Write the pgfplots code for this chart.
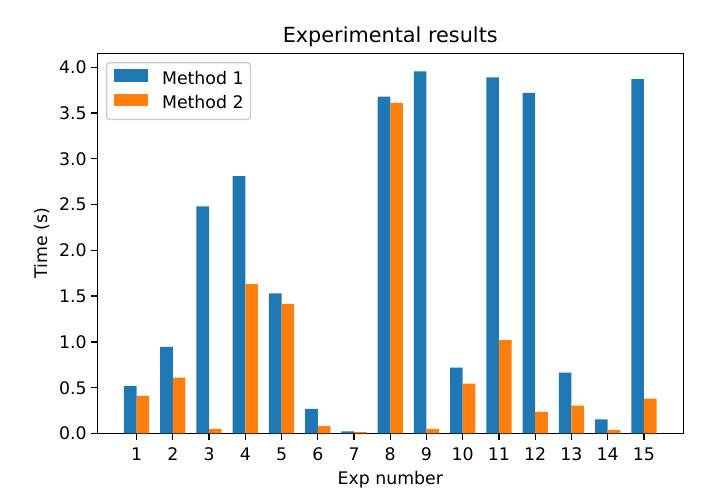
\documentclass[border=0pt]{standalone}
\usepackage{fontspec}
\setmainfont{DejaVu Sans}
\usepackage{pgfplots}
\pgfplotsset{compat=1.18}
\definecolor{cA}{RGB}{31,119,180}
\definecolor{cB}{RGB}{255,127,14}
\begin{document}
\begin{tikzpicture}
\useasboundingbox (0,0) rectangle (417.7pt,287.9pt);
\begin{axis}[
  at={(56.1pt,37.8pt)}, anchor=south west,
  scale only axis, width=338.1pt, height=219.4pt,
  xmin=-0.085, xmax=16.085, ymin=0, ymax=4.153,
  axis line style={line width=0.8pt},
  every tick/.style={black, line width=0.8pt},
  tick align=outside, major tick length=3.5pt,
  xtick={1,...,15}, ytick={0,0.5,...,4.0},
  xtick pos=bottom, ytick pos=left,
  /pgf/number format/assume math mode=true,
  yticklabel style={/pgf/number format/fixed, /pgf/number format/fixed zerofill, /pgf/number format/precision=1},
  tick label style={font=\fontsize{10}{12}\selectfont},
  xticklabel style={anchor=base, inner sep=0pt, yshift=-11.8pt},
  yticklabel style={anchor=east, inner sep=0pt, xshift=-2.4pt},
  title={Experimental results},
  every axis title/.style={at={(axis description cs:0.5,1)}, anchor=base, yshift=6.3pt, inner sep=0pt, font=\fontsize{12}{14}\selectfont},
  xlabel={Exp number},
  every axis x label/.style={at={(axis description cs:0.5,0)}, anchor=base, yshift=-29.3pt, inner sep=0pt, font=\fontsize{10}{12}\selectfont},
  ylabel={Time (s)},
  every axis y label/.style={at={(axis description cs:0,0.5)}, xshift=-28.7pt, rotate=90, anchor=base, inner sep=0pt, font=\fontsize{10}{12}\selectfont},
  legend style={at={(axis description cs:0,1)}, anchor=north west, xshift=5pt, yshift=-5pt,
    draw=black!20, line width=0.8pt, rounded corners=2pt, fill=white, fill opacity=0.8, text opacity=1,
    inner xsep=4pt, inner ysep=4pt, row sep=3.2pt,
    font=\fontsize{10}{12}\selectfont,
    nodes={inner sep=0pt, text height=7.3pt, text depth=2.3pt},
    /tikz/every odd column/.style={column sep=8pt}},
  legend cell align=left,
  legend image code/.code={\fill[#1, sharp corners, fill opacity=1] (0pt,-1pt) rectangle (20pt,6pt);},
]
\addplot[ybar, bar width=0.35, bar shift=-0.175, fill=cA, draw=none] coordinates {
(1,0.52) (2,0.945) (3,2.48) (4,2.81) (5,1.53) (6,0.27) (7,0.024) (8,3.68) (9,3.955) (10,0.72) (11,3.89) (12,3.72) (13,0.665) (14,0.155) (15,3.87)};
\addlegendentry{Method 1}
\addplot[ybar, bar width=0.35, bar shift=0.175, fill=cB, draw=none] coordinates {
(1,0.41) (2,0.61) (3,0.05) (4,1.63) (5,1.415) (6,0.08) (7,0.016) (8,3.61) (9,0.05) (10,0.545) (11,1.02) (12,0.235) (13,0.305) (14,0.04) (15,0.38)};
\addlegendentry{Method 2}
\end{axis}
\end{tikzpicture}
\end{document}
